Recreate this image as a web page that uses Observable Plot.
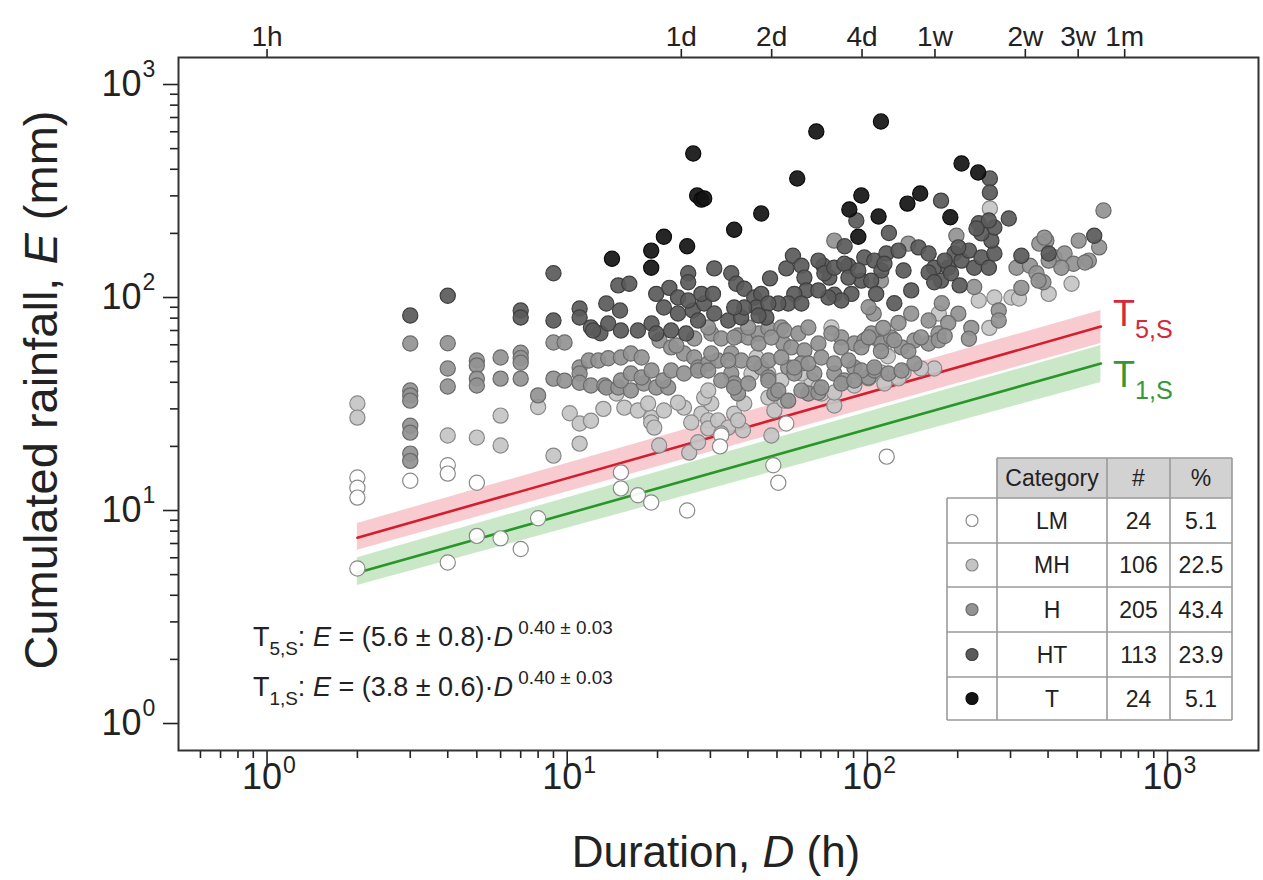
<!DOCTYPE html>
<html><head><meta charset="utf-8">
<script src="https://cdn.jsdelivr.net/npm/d3@7"></script>
<script src="https://cdn.jsdelivr.net/npm/@observablehq/plot@0.6"></script>
<style>body{margin:0;background:#fff} svg{display:block} text{white-space:pre}</style>
</head><body><div id="chart"></div>
<script>
// ---------- DATA (Duration D in h, cumulated rainfall E in mm) ----------
const LM = [[2,14.3],[2,12.8],[2,11.5],[2,5.34],[3,13.8],[4,16.3],[4,14.9],[4,5.7],[5,13.5],[5,7.6],[6,7.4],[7,6.6],[8,9.2],
[15.1,15.1],[15.1,12.7],[17.2,11.8],[19.05,10.9],[25.1,10.0],[32.6,22.5],[32.3,20.0],[53.7,25.6],[48.6,16.3],[50.5,13.5],[116,17.9]];

const MH = [[2,31.8],[2,27.3],[4,22.5],[5,22],[6,27.9],[6,20.2],[8,30.6],[9,18.1],
[10.2,28.6],[11,25.6],[12,26.4],[13.2,30.0],[11,20.6],
[14.6,35.4],[15.5,30.4],[17.2,29.5],[19.05,27.3],[21,29.5],[24.5,30.4],[28,28.5],[29.5,26.5],
[20.25,20.2],[25.5,18.7],[27.3,20.9],[18.6,31.8],[23.4,32.1],[19.05,25.9],[19.5,24.5],
[25.9,25.9],[30.2,31.8],[28.6,33.9],[29.5,36.6],[29.5,24.3],[31.8,26.5],[34.4,24.5],[36,28.5],[38.5,23.8],[38.9,31.8],
[46.8,33.9],[49,29.5],[47.9,22.5],[52.9,32.8],[77.6,31.1],[41.1,44.0],[37.1,26.5],[32.6,23.0],[65.1,40.8],[70.3,35.4],
[167,46.4],[132,44.5],[256,262],[302,100],[402,104],[479,116],[320,99],[235,96.8],[265,100],[173,84.1],
[103,43],[111,44.5],[75.9,72.3],[114,56],[117,53],[255,72],
[42.7,52.3],[46.8,44.0],[51.7,40.8],[60.3,44.0],[68.7,37.8],[77.6,35.8],[90.5,38.6],[100.8,41.7],[114,39.5],[127,41.7],[151,46.4]];

const H = [[3,60.8],[3,36.6],[3,34.7],[3,32.8],[3,25],[3,23.2],[3,18.5],[3,17.1],
[4,61],[4,46.4],[4,38.2],[5,50.6],[5,48.0],[5,41.6],[5,38.6],[6,52.3],[6,41.6],
[7,55],[7,52],[7,49.4],[7,41.6],[8,34.7],[9,61.5],[9,41.6],[9.8,61.5],[9.8,40.7],
[11,46.9],[11,44],[11,39.8],[12,38.6],[13.3,38.6],[11.8,50.6],[12.7,50.6],[13.7,51.9],
[15.1,52.3],[16.3,54.6],[17.7,52.3],[13.5,37.8],[14.8,37.8],[16.3,36.6],[18,39.5],[19.8,37.8],[21.7,37.8],
[20.3,62.8],[22.2,58.3],[24.5,54.6],[26.5,52.3],[27.3,46.9],[29.5,49],[31.8,50.6],[35.2,54.6],[38,50.6],
[23.1,59.5],[26.5,64.2],[30.2,67.8],[32.6,64.2],[37.1,66.3],[40.1,64.9],[43.4,67.8],[46.8,71.5],[51.7,72.3],[52.5,60.8],
[55.8,58.3],[61.7,56.4],[68.7,60.8],[81.9,64.9],[90.5,60.8],[97.7,62.8],[105.5,64.9],
[15.1,40.8],[16.3,44],[17.7,42.1],[19.1,45.4],[20.9,40.8],[22.2,45.4],[24.5,44],[27.3,45.4],[29.5,45.4],
[35.2,44],[36,39.5],[37.1,35.4],[44.3,46.9],[46.8,42.1],[49,35.4],[54.5,46.9],[57.1,44],[60.3,49],
[63.6,35.4],[68.7,35.8],[66.6,44],[77.6,44],[83.8,40.8],[90.5,46.9],[100.8,42.1],[105.5,45.4],
[29.5,72.3],[36,64.9],[40.1,72.3],[43.4,60.8],[47.9,64.9],[52.9,70],[58.9,67.8],[63.6,72.3],[75.9,67.8],[81.9,58.3],
[95.5,58.3],[103.1,67.8],[111.4,60.8],[120,64.9],[130,58.3],[143.5,62.8],[160,60.8],[172.6,67.8],
[30.2,54.6],[34.4,50.6],[42,49],[46.8,50.6],[51.7,52.3],[57.1,46.9],[63.6,49],[70.3,52.3],[77.6,49],[86.5,50.6],
[95.5,45.4],[105.5,46.9],[117.6,44],[130,45.4],[143.5,49],
[32.6,40.8],[36,37.8],[40.1,39.5],[46.8,40.8],[50.5,36.6],[54.5,32.8],[60.3,36.6],[70.3,37.8],[81.9,39.5],[90.5,40.8],
[137,179],[198,195],[111,120],[314,138],[348,141],[366,130],[386,118],[395,185],[421,154],[454,161],[486,144],[506,185],
[547,149],[592,172],[612,256],[227,112],[274,87],[274,78],[222,72],[201,84],[177,94],[160,78],[186,76],[140,84],[127,76],
[113,72],[105,84],[101,90],[101,65],[111,56],[123,63],[137,56],[151,65],[173,63],[181,66],[218,64],
[326,111],[372,120],[374,179],[389,191],[531,146],[443,138],[402,149],[77.6,185]];

const HT = [[3,82.3],[4,102],[7,86.9],[7,80.5],[9,78],[9,130],
[11,88.8],[11,80.5],[12,72.3],[12.9,68],[13.5,93.7],[14.8,114],[16.1,116],
[12.2,70],[13.7,75.5],[15.1,70],[17.2,70],[19.1,75.5],[25.3,130],[25.3,118],[30.9,137],[35.2,130],
[19.8,104],[21.9,111],[23.4,100],[21,89.8],[23.4,84.1],[26.2,86.9],[28.6,93.7],[30.9,84.1],[34.4,78],[38,80.5],
[19.8,67.8],[22.2,70],[24.9,67.8],[27.3,78],[15,86.9],[25.3,96.8],[28,104],[30.6,104],[36.6,116],
[38.9,110],[42,100],[44.3,104],[42.7,89.8],[38.9,89.8],[36,89.8],
[47.4,123],[53.7,137],[56.5,157],[60.3,141],[61.7,124],[62.6,108],[57.1,104],[54.5,93.7],[50.5,93.7],[46.8,93.7],[60.3,93.7],
[46.1,80.5],[43.4,82.3],[71.4,141],[74.7,124],[77.6,103],[86.5,141],[88.5,104],[95.5,120],[97.7,154],[91.9,230],
[68.7,149],[71.9,130],[77.6,138],[83.8,144],[86.5,124],[93.3,134],[105.5,149],[115.7,161],[111.4,134],[103,120],
[81.9,96.8],[74.2,100],[68.7,108],
[127,166],[148,172],[160,161],[167,138],[176,120],[186,138],[195,161],[206,149],[218,166],[227,138],[240,154],[254,138],
[265,161],[259,185],[265,213],[240,200],[235,223],[254,230],[256,362],[256,311],[176,285],[201,172],
[296,235],[231,211],[181,149],[160,131],[118,201],[114,144],[132,134],[140,108],[107,104],[123,94],[167,118],[190,130],[203,114],
[326,157],[402,161],[570,195],[84,174]];

const T = [[14.1,152],[19.05,166],[19.05,138],[21.0,193],[25.1,174],[26.3,474],[27.1,301],[28.0,288],[28.6,292],
[36.0,208],[44.3,248],[58.4,362],[67.6,602],[87.1,259],[95.5,301],[93.3,193],[109,240],[111,670],[136,276],
[150,308],[189,238],[206,426],[234,386]];

// fitted thresholds (end points of straight lines in log-log space) and their bands
const fitD = [2, 600];
const t5E = [7.45, 73], t5Lo = [6.5, 60.8], t5Hi = [8.7, 86.9];
const t1E = [5.1, 49], t1Lo = [4.45, 39.9], t1Hi = [6.0, 59.5];

// table
const categories = ["LM", "MH", "H", "HT", "T"];
const counts = [24, 106, 205, 113, 24];
const percents = ["5.1", "22.5", "43.4", "23.9", "5.1"];

// ticks
const xMajor = [1, 10, 100, 1000];
const xMajorExp = ["0", "1", "2", "3"];
const xMinor = [0.6,0.7,0.8,0.9,2,3,4,5,6,7,8,9,20,30,40,50,60,70,80,90,200,300,400,500,600,700,800,900];
const yMajor = [1, 10, 100, 1000];
const yMajorExp = ["0", "1", "2", "3"];
const yMinor = [2,3,4,5,6,7,8,9,20,30,40,50,60,70,80,90,200,300,400,500,600,700,800,900];
const topTicks = [1, 24, 48, 96, 168, 336, 504, 720];
const topLabels = ["1h", "1d", "2d", "4d", "1w", "2w", "3w", "1m"];

// ---------- BUILD ----------
const fills = {LM: "#ffffff", MH: "#c4c4c4", H: "#939393", HT: "#5a5a5a", T: "#141414"};
const strokes = {LM: "#8a8a8a", MH: "#888888", H: "#6a6a6a", HT: "#3e3e3e", T: "#0a0a0a"};
const series = {LM, MH, H, HT, T};
const toRows = arr => arr.map(([D, E]) => ({D, E}));
const bandRows = (lo, hi) => fitD.map((D, i) => ({D, lo: lo[i], hi: hi[i]}));
const lineRows = e => fitD.map((D, i) => ({D, E: e[i]}));

const dotMark = cat => Plot.dot(toRows(series[cat]), {x: "D", y: "E", r: 7.6, fill: fills[cat], fillOpacity: 0.92, stroke: strokes[cat], strokeWidth: 1.2});
const font = "'Liberation Sans', Arial, sans-serif";

const svg = Plot.plot({
  width: 1263, height: 880,
  marginLeft: 178, marginRight: 5, marginTop: 57, marginBottom: 130,
  style: {fontFamily: font, background: "#fff", color: "#222"},
  x: {type: "log", domain: [0.507, 2010], label: null, axis: null},
  y: {type: "log", domain: [0.747, 1339], label: null, axis: null},
  marks: [
    Plot.areaY(bandRows(t5Lo, t5Hi), {x: "D", y1: "lo", y2: "hi", fill: "#f3a0ac", fillOpacity: 0.55}),
    Plot.areaY(bandRows(t1Lo, t1Hi), {x: "D", y1: "lo", y2: "hi", fill: "#9fd59a", fillOpacity: 0.55}),
    Plot.lineY(lineRows(t5E), {x: "D", y: "E", stroke: "#d41e2e", strokeWidth: 2.6}),
    Plot.lineY(lineRows(t1E), {x: "D", y: "E", stroke: "#2a962a", strokeWidth: 2.6}),
    dotMark("MH"), dotMark("H"), dotMark("HT"), dotMark("T"), dotMark("LM"),
    Plot.axisX({anchor: "bottom", ticks: xMinor, tickSize: 8, strokeWidth: 1.6, tickFormat: () => "", label: null}),
    Plot.axisX({anchor: "bottom", ticks: xMajor, tickSize: 15, strokeWidth: 1.6, tickFormat: () => "", label: null}),
    Plot.axisX({anchor: "top", ticks: topTicks, tickSize: 9, strokeWidth: 1.6, tickFormat: () => "", label: null}),
    Plot.text(topTicks, {x: d => d, frameAnchor: "top", dy: -31, fontSize: 28, text: d => topLabels[topTicks.indexOf(d)]}),
    Plot.axisY({anchor: "left", ticks: yMinor, tickSize: 8, strokeWidth: 1.6, tickFormat: () => "", label: null}),
    Plot.axisY({anchor: "left", ticks: yMajor, tickSize: 15, strokeWidth: 1.6, tickFormat: () => "", label: null}),
    Plot.text(xMajor, {x: d => d, frameAnchor: "bottom", dy: 38, dx: 15, textAnchor: "end", fontSize: 36, text: () => "10"}),
    Plot.text(xMajor, {x: d => d, frameAnchor: "bottom", dy: 22, dx: 16, textAnchor: "start", fontSize: 23, text: d => xMajorExp[xMajor.indexOf(d)]}),
    Plot.text(yMajor, {y: d => d, frameAnchor: "left", dx: -37, textAnchor: "end", fontSize: 36, text: () => "10"}),
    Plot.text(yMajor, {y: d => d, frameAnchor: "left", dx: -36, dy: -15, textAnchor: "start", fontSize: 23, text: d => yMajorExp[yMajor.indexOf(d)]}),
    Plot.frame({stroke: "#333", strokeWidth: 2})
  ]
});
document.getElementById("chart").append(svg);

// ---------- rich text (titles, equations, labels, table) ----------
const S = d3.select(svg);
function rich(g, parts, size) {
  let off = 0;
  for (const p of parts) {
    const target = p.sub ? size * 0.32 : p.sup ? -size * 0.45 : 0;
    const ts = g.append("tspan").text(p.t).attr("dy", target - off)
      .attr("font-size", (p.sub || p.sup) ? size * 0.7 : size);
    if (p.it) ts.attr("font-style", "italic");
    off = target;
  }
}
function addText(x, y, size, parts, opts = {}) {
  const t = S.append("text").attr("x", x).attr("y", y).attr("font-family", font)
    .attr("font-size", size).attr("fill", opts.fill || "#222").attr("text-anchor", opts.anchor || "start");
  if (opts.transform) t.attr("transform", opts.transform).attr("x", 0).attr("y", 0);
  rich(t, parts, size);
  return t;
}
addText(716, 867, 44, [{t: "Duration, "}, {t: "D", it: true}, {t: " (h)"}], {anchor: "middle"});
addText(0, 0, 47, [{t: "Cumulated rainfall, "}, {t: "E", it: true}, {t: " (mm)"}], {anchor: "middle", transform: "translate(57,390) rotate(-90)"});

addText(253, 646, 27, [{t: "T"}, {t: "5,S", sub: true}, {t: ": "}, {t: "E", it: true}, {t: " = (5.6 ± 0.8)·"}, {t: "D", it: true}, {t: " 0.40 ± 0.03", sup: true}]);
addText(253, 696, 27, [{t: "T"}, {t: "1,S", sub: true}, {t: ": "}, {t: "E", it: true}, {t: " = (3.8 ± 0.6)·"}, {t: "D", it: true}, {t: " 0.40 ± 0.03", sup: true}]);

addText(1113, 326, 36, [{t: "T"}, {t: "5,S", sub: true}], {fill: "#d42a3a"});
addText(1113, 387, 36, [{t: "T"}, {t: "1,S", sub: true}], {fill: "#37963a"});

// table
const cols = [947, 997, 1107, 1170, 1232];
const rowsY = [458, 498, 543, 587, 632, 677, 720];
const tg = S.append("g").attr("font-family", font).attr("font-size", 23).attr("fill", "#222");
tg.append("rect").attr("x", cols[1]).attr("y", rowsY[0]).attr("width", cols[4] - cols[1]).attr("height", rowsY[1] - rowsY[0]).attr("fill", "#d2d2d2");
tg.append("rect").attr("x", cols[0]).attr("y", rowsY[1]).attr("width", cols[4] - cols[0]).attr("height", rowsY[6] - rowsY[1]).attr("fill", "#fff");
const ln = (x1, y1, x2, y2) => tg.append("line").attr("x1", x1).attr("y1", y1).attr("x2", x2).attr("y2", y2).attr("stroke", "#9a9a9a").attr("stroke-width", 1.6);
ln(cols[1], rowsY[0], cols[4], rowsY[0]);
for (let i = 1; i < rowsY.length; i++) ln(cols[0], rowsY[i], cols[4], rowsY[i]);
ln(cols[0], rowsY[1], cols[0], rowsY[6]);
for (let j = 1; j < cols.length; j++) ln(cols[j], rowsY[0], cols[j], rowsY[6]);
const header = ["Category", "#", "%"];
header.forEach((h, j) => tg.append("text").attr("x", (cols[j + 1] + cols[j + 2]) / 2).attr("y", (rowsY[0] + rowsY[1]) / 2 + 8).attr("text-anchor", "middle").text(h));
categories.forEach((c, i) => {
  const cy = (rowsY[i + 1] + rowsY[i + 2]) / 2;
  tg.append("circle").attr("cx", (cols[0] + cols[1]) / 2).attr("cy", cy).attr("r", 6).attr("fill", fills[c]).attr("stroke", strokes[c]).attr("stroke-width", 1.2);
  [c, String(counts[i]), percents[i]].forEach((v, j) =>
    tg.append("text").attr("x", (cols[j + 1] + cols[j + 2]) / 2).attr("y", cy + 8).attr("text-anchor", "middle").text(v));
});
</script>
</body></html>
